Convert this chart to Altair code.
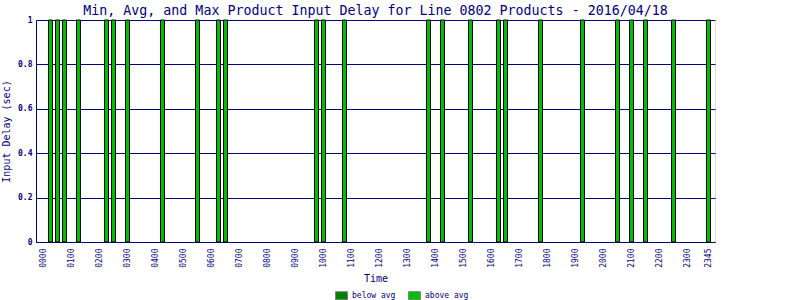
import altair as alt
import pandas as pd

NAVY = "#000080"
FONT = "DejaVu Sans Mono"

# 15-minute slot index (0 = 00:00, 95 = 23:45) of every bar
bar_slots = [1, 2, 3, 5, 9, 10, 12, 17, 22, 25, 26, 39, 40, 43,
             55, 57, 61, 65, 66, 71, 77, 82, 84, 86, 90, 95]
bar_values = [1.0] * len(bar_slots)
bar_groups = ["above avg"] * len(bar_slots)

legend_labels = ["below avg", "above avg"]
legend_colors = ["#008000", "#00C000"]

tick_slots = [0, 4, 8, 12, 16, 20, 24, 28, 32, 36, 40, 44, 48, 52, 56,
              60, 64, 68, 72, 76, 80, 84, 88, 92, 95]
tick_labels = ["0000", "0100", "0200", "0300", "0400", "0500", "0600", "0700",
               "0800", "0900", "1000", "1100", "1200", "1300", "1400", "1500",
               "1600", "1700", "1800", "1900", "2000", "2100", "2200", "2300",
               "2345"]

df = pd.DataFrame({"slot": bar_slots, "delay": bar_values, "group": bar_groups})

label_expr = "[" + ",".join("'%s'" % t for t in tick_labels) + "][indexof([" + \
    ",".join(str(s) for s in tick_slots) + "], datum.value)]"

chart = alt.Chart(df).transform_calculate(
    lo="datum.slot - 2/7", hi="datum.slot + 2/7"
).mark_bar(stroke="black", strokeWidth=1, orient="vertical").encode(
    x=alt.X("lo:Q", title="Time",
            scale=alt.Scale(domain=[-1.07, 95.93], nice=False, zero=False, padding=0),
            axis=alt.Axis(values=tick_slots, labelExpr=label_expr, labelAngle=-90,
                          labelAlign="right", labelBaseline="middle",
                          labelFont=FONT, labelFontSize=8, labelColor=NAVY,
                          labelPadding=6, ticks=False, grid=False,
                          domainColor=NAVY, titleFont=FONT, titleFontSize=10,
                          titleFontWeight="normal", titleColor=NAVY,
                          titlePadding=6, labelOverlap=False, labelFlush=False)),
    x2="hi:Q",
    y=alt.Y("delay:Q", title="Input Delay (sec)",
            scale=alt.Scale(domain=[0, 1], nice=False, zero=True, padding=0),
            axis=alt.Axis(values=[0, 0.2, 0.4, 0.6, 0.8, 1], format="~g",
                          labelFont=FONT, labelFontSize=8, labelColor=NAVY,
                          labelFontWeight="bold",
                          labelPadding=4, ticks=False, grid=True, gridColor=NAVY,
                          gridOpacity=1, gridWidth=1, domainColor=NAVY,
                          titleFont=FONT, titleFontSize=10, titleFontWeight="normal",
                          titleColor=NAVY, titlePadding=6, labelFlush=False)),
    y2=alt.datum(0),
    color=alt.Color("group:N", title=None,
                    scale=alt.Scale(domain=legend_labels, range=legend_colors),
                    legend=alt.Legend(orient="none", legendX=299, legendY=269,
                                      direction="horizontal",
                                      symbolType="M-1,-0.67H1V0.67H-1Z",
                                      symbolSize=144, symbolStrokeColor="#808080",
                                      symbolStrokeWidth=1, symbolOpacity=1,
                                      labelFont=FONT, labelFontSize=8,
                                      labelColor=NAVY, labelOffset=4,
                                      columnPadding=10)),
).properties(
    width=679, height=222,
    title=alt.TitleParams("Min, Avg, and Max Product Input Delay for Line 0802 Products - 2016/04/18",
                          font=FONT, fontSize=13.3, fontWeight="normal", color=NAVY,
                          anchor="middle", offset=-1),
    autosize=alt.AutoSizeParams(type="none"),
    padding={"left": 36, "top": 20, "right": 85, "bottom": 58},
).configure_view(stroke=NAVY, strokeWidth=1).configure(background="white")

chart.save("out.html", embed_options={"renderer": "svg", "actions": False})
